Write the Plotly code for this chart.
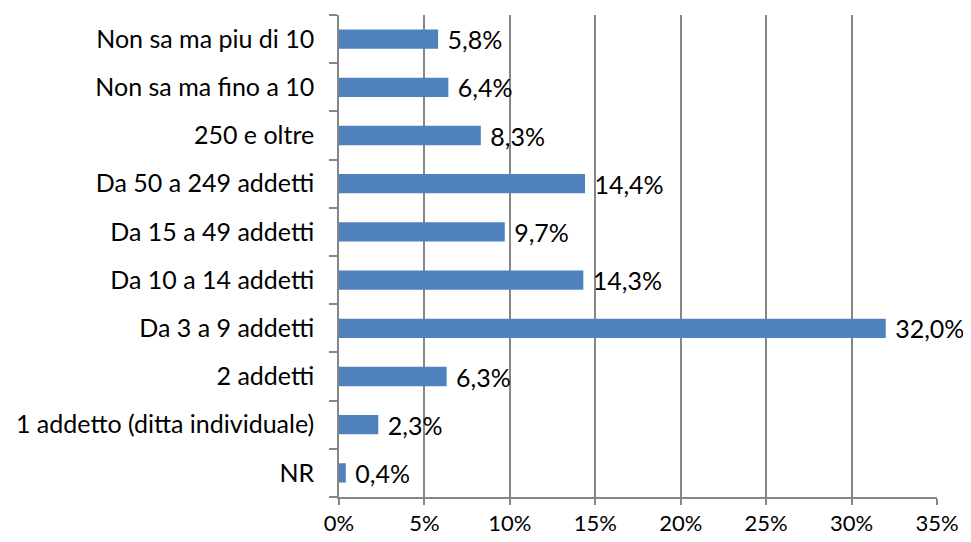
import plotly.graph_objects as go

categories = ["NR", "1 addetto (ditta individuale)", "2 addetti", "Da 3 a 9 addetti",
              "Da 10 a 14 addetti", "Da 15 a 49 addetti", "Da 50 a 249 addetti",
              "250 e oltre", "Non sa ma fino a 10", "Non sa ma piu di 10"]
values = [0.4, 2.3, 6.3, 32.0, 14.3, 9.7, 14.4, 8.3, 6.4, 5.8]
x_ticks = [0, 5, 10, 15, 20, 25, 30, 35]
x_tick_labels = ["0%", "5%", "10%", "15%", "20%", "25%", "30%", "35%"]

font_family = "Lato, Carlito, Calibri, sans-serif"
axis_color = "#868686"

fig = go.Figure(go.Bar(
    y=categories, x=values, orientation="h",
    marker=dict(color="#4F81BD", line=dict(width=0)),
    texttemplate="\u00a0%{x:.1f}%", textposition="outside",
    textfont=dict(size=25, color="black", family=font_family),
    constraintext="none",
    cliponaxis=False, width=0.4,
))

fig.update_layout(
    width=963, height=534,
    margin=dict(l=331, r=34, t=7, b=45, autoexpand=False),
    paper_bgcolor="white", plot_bgcolor="white",
    separators=",.",
    showlegend=False,
    font=dict(family=font_family, size=25, color="black"),
    xaxis=dict(range=[0, 35], tickvals=x_ticks, ticktext=x_tick_labels,
               showgrid=True, gridcolor=axis_color, gridwidth=1.5,
               showline=True, linecolor=axis_color, linewidth=1.5,
               ticks="outside", ticklen=6, tickcolor=axis_color, tickwidth=1.5,
               zeroline=False, tickfont=dict(size=22), automargin=False),
    yaxis=dict(type="category", categoryorder="array", categoryarray=categories,
               showline=True, linecolor=axis_color, linewidth=1.5,
               ticks="outside", ticklen=8, tickcolor=axis_color, tickwidth=1.5,
               tickson="boundaries", showgrid=False, ticklabelstandoff=18,
               tickfont=dict(size=25), automargin=False),
)

fig.write_html("out.html")
